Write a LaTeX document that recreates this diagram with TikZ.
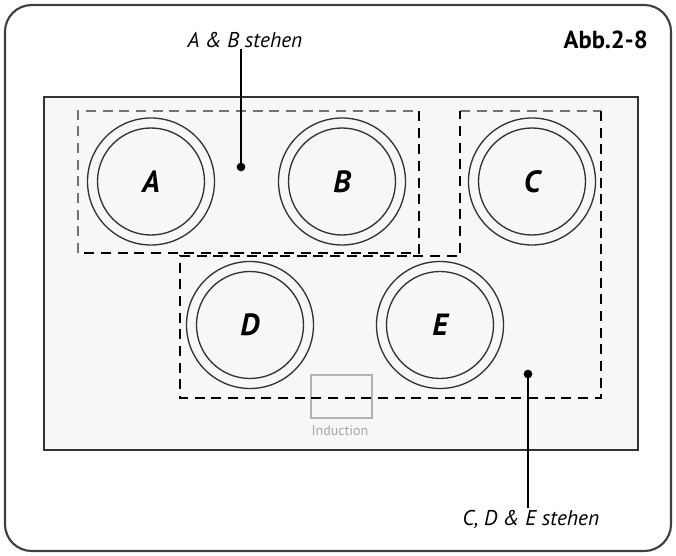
\documentclass[tikz,border=0pt]{standalone}
\usepackage{fontspec}
\setmainfont{PT Sans}
\begin{document}
\begin{tikzpicture}[x=0.75pt,y=-0.75pt,
  frame/.style={draw=black!75,line width=1.6pt,rounded corners=20pt},
  cooktop/.style={draw=black!80,line width=1.2pt,fill=black!3},
  ring/.style={draw=black!80,line width=1pt,circle,inner sep=0pt,minimum size=127*0.75pt},
  inring/.style={draw=black!80,line width=1pt,circle,inner sep=0pt,minimum size=107*0.75pt},
  zone/.style={font=\bfseries\itshape\fontsize{23}{25}\selectfont},
  dashblack/.style={draw=black,line width=1.6pt,dash pattern=on 7.5pt off 5pt},
  dashgray/.style={draw=black!55,line width=1.2pt,dash pattern=on 7.5pt off 5pt},
  dot/.style={circle,fill=black,inner sep=0pt,minimum size=6.5pt},
  callout/.style={font=\itshape\fontsize{16}{18}\selectfont,inner sep=1pt},
  lead/.style={draw=black,line width=0.8pt},
  ind/.style={draw=black!30,line width=0.8pt},
]
\useasboundingbox (0,0) rectangle (676,556);
\path[frame] (5,5) rectangle (671,551);
\path[cooktop] (44,97) rectangle (638,450);
% induction marker
\node[ind,minimum width=61*0.75pt,minimum height=43*0.75pt,inner sep=0pt] (indbox) at (341.5,396.5) {};
\node[text=black!35,font=\fontsize{10.5}{12}\selectfont,inner sep=0pt] (indtxt) at (340,431) {Induction};
% burners
\foreach \n/\x/\y in {A/151/181.5,B/342/181.5,C/532/181.5,D/250/325,E/440/325}{
  \node[ring] (\n) at (\x,\y) {};
  \node[inring] (\n i) at (\x,\y) {};
  \node[zone] (\n t) at (\x,\y) {\n};
}
% dashed groups
\coordinate (ab1) at (78,111);
\coordinate (ab2) at (419,111);
\coordinate (ab3) at (419,253);
\coordinate (ab4) at (78,253);
\draw[dashgray] (ab4) -- (ab1) -- (ab2);
\draw[dashblack] (ab2) -- (ab3) -- (ab4);
\coordinate (c1) at (460,111);
\coordinate (c2) at (601,111);
\coordinate (c3) at (601,398);
\coordinate (c4) at (180,398);
\coordinate (c5) at (180,256);
\coordinate (c6) at (460,256);
\draw[dashgray] (c1) -- (c2);
\draw[dashblack] (c2) -- (c3) -- (c4) -- (c5) -- (c6) -- (c1);
% callouts
\node[callout] (abl) at (245,40) {A \& B stehen};
\node[dot] (abd) at (241,167) {};
\draw[lead] (abd.center) -- (abd.center |- abl.south);
\node[callout] (cdel) at (531,519) {C, D \& E stehen};
\node[dot] (cded) at (528,374) {};
\draw[lead] (cded.center) -- (cded.center |- cdel.north);
\node[font=\bfseries\fontsize{18.5}{20}\selectfont,anchor=east,inner sep=0pt] (title) at (648,40) {Abb.2-8};
\end{tikzpicture}
\end{document}
